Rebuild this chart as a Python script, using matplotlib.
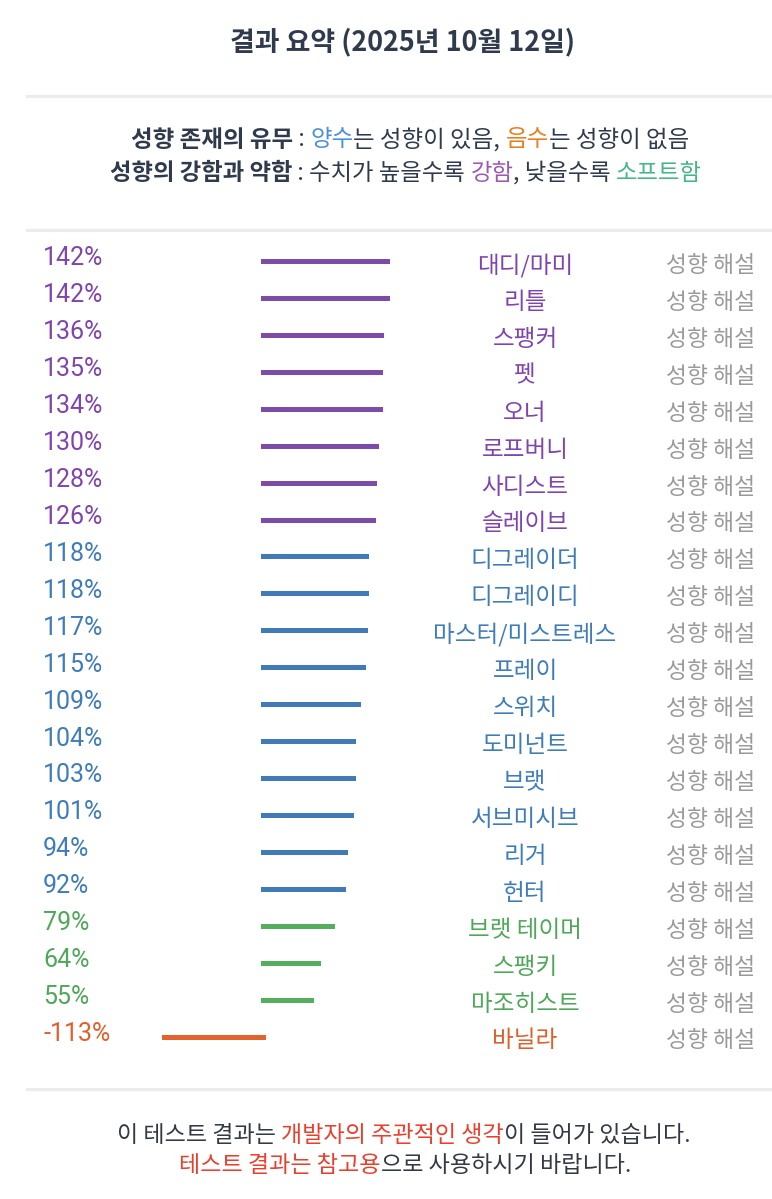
import matplotlib
matplotlib.use('Agg')
import matplotlib.pyplot as plt
from matplotlib.lines import Line2D
from matplotlib.transforms import blended_transform_factory

KR = ['Noto Sans CJK KR', 'DejaVu Sans']
NUM = ['Roboto', 'Noto Sans CJK KR']

# ---- data ----
names = ['대디/마미', '리틀', '스팽커', '펫', '오너', '로프버니', '사디스트', '슬레이브',
         '디그레이더', '디그레이디', '마스터/미스트레스', '프레이', '스위치', '도미넌트',
         '브랫', '서브미시브', '리거', '헌터', '브랫 테이머', '스팽키', '마조히스트', '바닐라']
values = [142, 142, 136, 135, 134, 130, 128, 126,
          118, 118, 117, 115, 109, 104, 103, 101, 94, 92,
          79, 64, 55, -113]
groups = ['p'] * 8 + ['b'] * 10 + ['g'] * 3 + ['o']

bar_col = {'p': '#7d4ba8', 'b': '#4279b7', 'g': '#55ae5d', 'o': '#e4622e'}
txt_col = {'p': '#8044ad', 'b': '#3f7cb8', 'g': '#4fa85a', 'o': '#e0602c'}

W, H = 772, 1199
fig = plt.figure(figsize=(W / 100, H / 100), dpi=100)
fig.patch.set_facecolor('white')

# bar axes covers the whole figure; scale chosen so zero sits at ~262 px
ax = fig.add_axes([0, 0, 1, 1])
px_per = 0.874
zero_px = 262.5
ax.set_xlim(-zero_px / px_per, (W - zero_px) / px_per)
row0, pitch = 261, 36.93
ax.set_ylim((H - row0) / pitch, -row0 / pitch)
ax.axis('off')

rows = list(range(len(values)))
for i, v, g in zip(rows, values, groups):
    ax.hlines(i, 0, v, color=bar_col[g], lw=3.6, capstyle='projecting')

tr = blended_transform_factory(ax.transAxes, ax.transData)
for i, v, n, g in zip(rows, values, names, groups):
    ax.text(43 / W, i - 0.07, f'{v}%', transform=tr, ha='left', va='center',
            fontsize=18, color=txt_col[g], family=NUM)
    ax.text(525 / W, i + 0.12, n, transform=tr, ha='center', va='center',
            fontsize=17, color=txt_col[g], family=KR)
    ax.text(711 / W, i + 0.12, '성향 해설', transform=tr, ha='center', va='center',
            fontsize=16.4, color='#9a9a9a', family=KR)

# ---- header / footer text ----
fig.text(403 / W, 1 - 42 / H, '결과 요약 (2025년 10월 12일)', ha='center', va='center',
         fontsize=19.4, fontweight='bold', color='#2f3b4c', family=KR)

renderer = fig.canvas.get_renderer()


def seg_width(s, **kw):
    t = fig.text(0, 0, '|' + s + '|', **kw)
    t2 = fig.text(0, 0, '||', **kw)
    w = t.get_window_extent(renderer).width - t2.get_window_extent(renderer).width
    t.remove(); t2.remove()
    return w


def rich_line(cx, cy, segs, size):
    widths = []
    for s, c, wt in segs:
        widths.append(seg_width(s, fontsize=size, fontweight=wt, family=KR))
    x = cx - sum(widths) / 2
    for (s, c, wt), w in zip(segs, widths):
        fig.text(x / W, 1 - cy / H, s, ha='left', va='center', fontsize=size,
                 fontweight=wt, color=c, family=KR)
        x += w


dark = '#2f3b4c'
rich_line(410, 140, [('성향 존재의 유무', dark, 'bold'), (' : ', dark, 'normal'),
                     ('양수', '#4a90d9', 'normal'), ('는 성향이 있음, ', dark, 'normal'),
                     ('음수', '#e67e22', 'normal'), ('는 성향이 없음', dark, 'normal')], 16.9)
rich_line(406, 173, [('성향의 강함과 약함', dark, 'bold'), (' : ', dark, 'normal'),
                     ('수치가 높을수록 ', dark, 'normal'), ('강함', '#9b59b6', 'normal'),
                     (', 낮을수록 ', dark, 'normal'), ('소프트함', '#45b58a', 'normal')], 16.8)

rich_line(404, 1136, [('이 테스트 결과는 ', '#333a44', 'normal'),
                      ('개발자의 주관적인 생각', '#e8402e', 'normal'),
                      ('이 들어가 있습니다.', '#333a44', 'normal')], 16.6)
rich_line(405, 1165, [('테스트 결과는 참고용', '#e8402e', 'normal'),
                      ('으로 사용하시기 바랍니다.', '#333a44', 'normal')], 16.6)

# separators
for y in (95.5, 229.5, 1089):
    fig.add_artist(Line2D([27 / W, 1], [1 - y / H, 1 - y / H], color='#ececec', lw=2.3))

fig.savefig('out.png', dpi=100, facecolor='white')
